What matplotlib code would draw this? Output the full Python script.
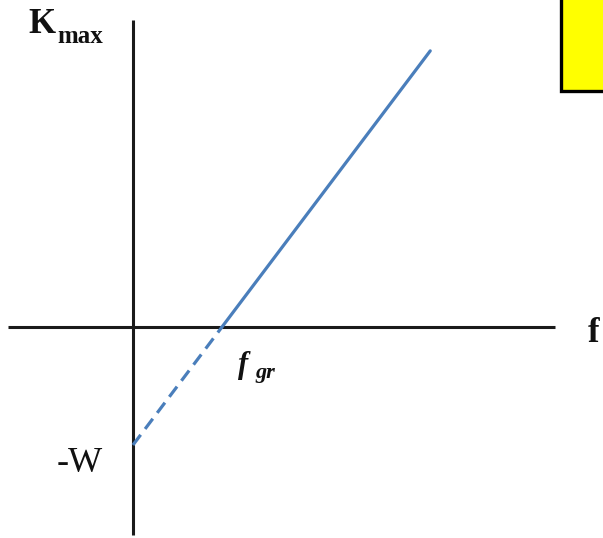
import matplotlib
matplotlib.use("Agg")
import matplotlib.pyplot as plt
from matplotlib.patches import Rectangle
import numpy as np

# Photoelectric effect: maximum kinetic energy vs. frequency, K_max = h f - W
W = 1.0            # work function (intercept below the origin)
f_gr = 1.0         # threshold frequency
f_end = 3.34       # last frequency drawn
slope = W / f_gr

f_solid = np.array([f_gr, f_end])
k_solid = slope * f_solid - W
f_dash = np.array([0.0, f_gr])
k_dash = slope * f_dash - W

serif = ["Liberation Serif", "DejaVu Serif"]
blue = "#4a7ebb"
axis_color = "#1a1a1a"

fig = plt.figure(figsize=(6.03, 5.38), dpi=100)
ax = fig.add_axes([0, 0, 1, 1])
ax.set_xlim(-1.494, 5.281)
ax.set_ylim(-1.788, 2.771)
ax.axis("off")

# coordinate axes
ax.plot([-1.404, 4.742], [0, 0], color=axis_color, lw=2.2, solid_capstyle="butt")
ax.plot([0, 0], [-1.763, 2.602], color=axis_color, lw=2.2, solid_capstyle="butt")

# K_max(f) line and its extrapolation to the intercept
ax.plot(f_solid, k_solid, color=blue, lw=2.3, solid_capstyle="round")
ax.plot(f_dash, k_dash, color=blue, lw=2.3, linestyle=(0, (4, 2.3)))

# labels
ax.text(-1.18, 2.492, "K", family=serif, fontweight="bold", fontsize=25,
        ha="left", va="baseline", color="#111111")
ax.text(-0.854, 2.407, "max", family=serif, fontweight="bold", fontsize=18,
        ha="left", va="baseline", color="#111111")
ax.text(5.11, -0.127, "f", family=serif, fontweight="bold", fontsize=25,
        ha="left", va="baseline", color="#111111")
ax.text(1.18, -0.390, "f", family=serif, fontweight="bold", style="italic",
        fontsize=22, ha="left", va="baseline", color="#111111")
ax.text(1.37, -0.432, "gr", family=serif, fontweight="bold", style="italic",
        fontsize=16, ha="left", va="baseline", color="#111111")
ax.text(-0.337, -1.229, "-W", family=serif, fontsize=26,
        ha="right", va="baseline", color="#111111")

# yellow box in the corner
ax.add_patch(Rectangle((4.81, 2.0), 1.0, 1.0, facecolor="#ffff00",
                       edgecolor="black", lw=2.4, clip_on=True))

fig.savefig("out.png", dpi=100)
